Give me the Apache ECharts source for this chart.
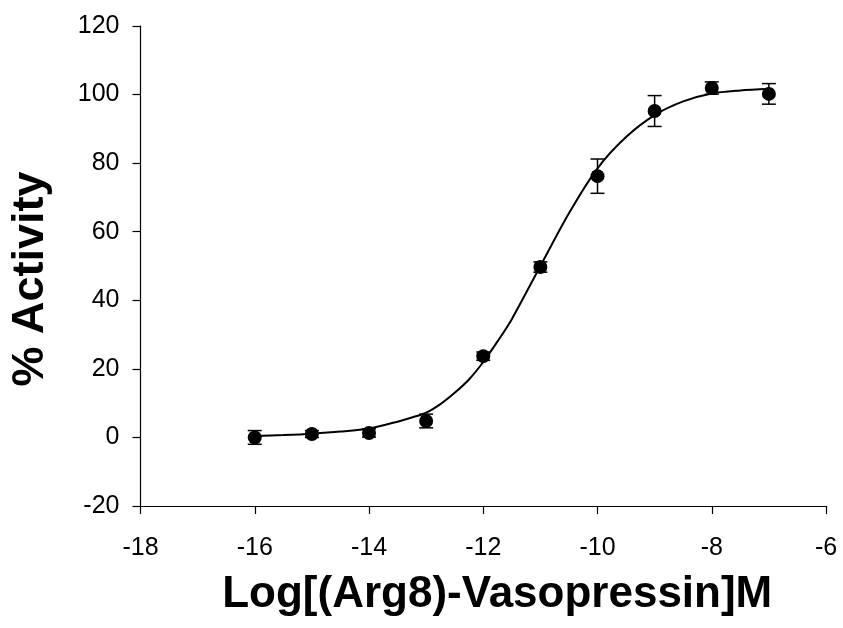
<!DOCTYPE html>
<html>
<head>
<meta charset="utf-8">
<script src="https://cdn.jsdelivr.net/npm/echarts@6/dist/echarts.min.js"></script>
<style>html,body{margin:0;padding:0;background:#fff}#c{width:843px;height:628px}</style>
</head>
<body>
<div id="c"></div>
<script>
// Measured data (log concentration, % activity, error)
var doseLog = [-16, -15, -14, -13, -12, -11, -10, -9, -8, -7];
var activity = [0, 1.0, 1.3, 4.8, 23.7, 49.7, 76.2, 95.2, 101.9, 100.2];
var errorVal = [2.0, 1.0, 1.2, 2.0, 1.2, 1.5, 5.0, 4.5, 1.8, 3.0];
// Fitted curve
var curveX = [-16, -15.5, -15, -14.5, -14, -13.5, -13.25, -13, -12.75, -12.5, -12.25, -12, -11.75, -11.5, -11, -10.5, -10, -9.5, -9, -8.5, -8, -7.5, -7];
var curveY = [0.4, 0.7, 1.1, 1.7, 2.6, 4.6, 5.8, 7.2, 9.7, 13.0, 16.9, 22.0, 28.0, 34.5, 50.0, 65.4, 78.5, 87.6, 94.0, 98.0, 100.3, 101.2, 101.7];
var xTicks = [-18, -16, -14, -12, -10, -8, -6];
var yTicks = [-20, 0, 20, 40, 60, 80, 100, 120];

var font = 'Liberation Sans, Arial, sans-serif';
var chart = echarts.init(document.getElementById('c'));
var points = doseLog.map(function (x, i) { return [x, activity[i]]; });
var errs = doseLog.map(function (x, i) { return [x, activity[i] - errorVal[i], activity[i] + errorVal[i]]; });
var curve = curveX.map(function (x, i) { return [x, curveY[i]]; });

chart.setOption({
  animation: false,
  backgroundColor: '#fff',
  grid: { left: 140, right: 17, top: 26, bottom: 122, containLabel: false },
  xAxis: {
    type: 'value', min: xTicks[0], max: xTicks[xTicks.length - 1], interval: 2,
    position: 'bottom',
    axisLine: { onZero: false, lineStyle: { color: '#000', width: 1.2 } },
    axisTick: { show: true, length: 8, inside: false, lineStyle: { color: '#000', width: 1.2 } },
    axisLabel: { color: '#000', fontSize: 25, fontFamily: font, margin: 30 },
    splitLine: { show: false },
    name: 'Log[(Arg8)-Vasopressin]M', nameLocation: 'middle', nameGap: 89,
    nameTextStyle: { color: '#000', fontSize: 44, fontWeight: 'bold', fontFamily: font, verticalAlign: 'middle', padding: [0, 0, 0, 28] }
  },
  yAxis: {
    type: 'value', min: yTicks[0], max: yTicks[yTicks.length - 1], interval: 20,
    axisLine: { onZero: false, lineStyle: { color: '#000', width: 1.2 } },
    axisTick: { show: true, length: 8, inside: false, lineStyle: { color: '#000', width: 1.2 } },
    axisLabel: { color: '#000', fontSize: 25, fontFamily: font, margin: 21 },
    splitLine: { show: false },
    name: '% Activity', nameLocation: 'middle', nameGap: 110,
    nameTextStyle: { color: '#000', fontSize: 45, fontWeight: 'bold', fontFamily: font, verticalAlign: 'middle', padding: [0, 26, 0, 0] }
  },
  series: [
    {
      type: 'line', data: curve, smooth: 0.3, showSymbol: false, symbol: 'none',
      lineStyle: { color: '#000', width: 2 }, z: 2
    },
    {
      type: 'custom', data: errs, z: 3,
      renderItem: function (params, api) {
        var x = api.value(0);
        var lo = api.coord([x, api.value(1)]);
        var hi = api.coord([x, api.value(2)]);
        var hw = 7;
        var st = { stroke: '#000', lineWidth: 1.5 };
        return {
          type: 'group', children: [
            { type: 'line', shape: { x1: lo[0], y1: lo[1], x2: hi[0], y2: hi[1] }, style: st },
            { type: 'line', shape: { x1: lo[0] - hw, y1: lo[1], x2: lo[0] + hw, y2: lo[1] }, style: st },
            { type: 'line', shape: { x1: hi[0] - hw, y1: hi[1], x2: hi[0] + hw, y2: hi[1] }, style: st }
          ]
        };
      }
    },
    {
      type: 'scatter', data: points, symbol: 'circle', symbolSize: 14,
      itemStyle: { color: '#000', opacity: 1 }, z: 4
    }
  ]
});
</script>
</body>
</html>
